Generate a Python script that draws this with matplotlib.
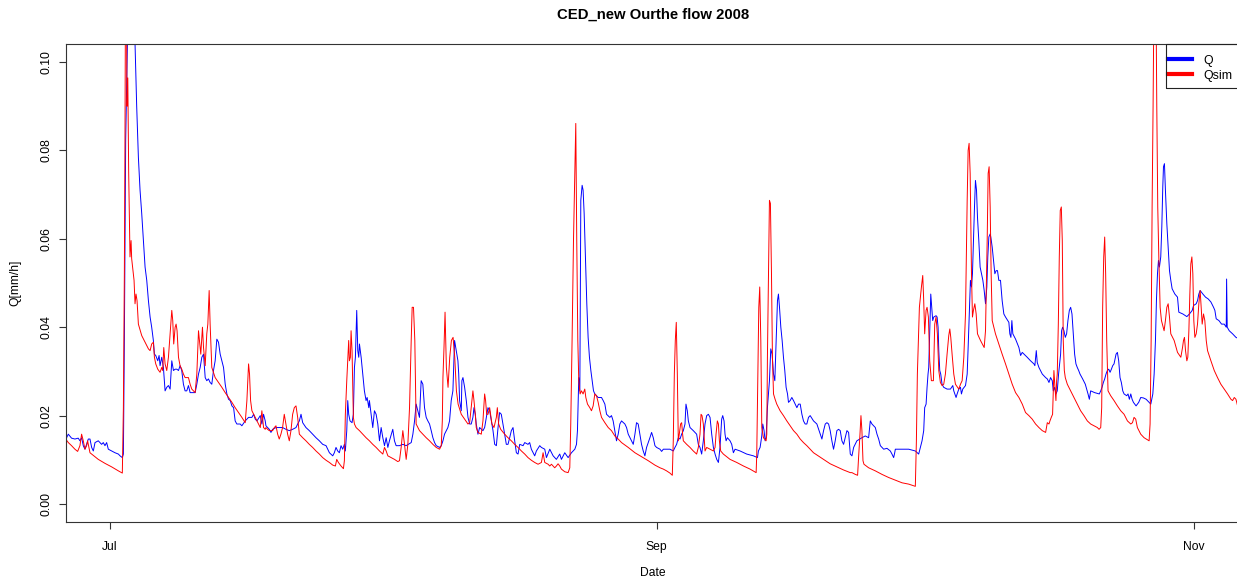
import numpy as np
import matplotlib
matplotlib.use("Agg")
import matplotlib.pyplot as plt
from matplotlib.patches import Rectangle

# (days since 2008-07-01, discharge in mm/h), hourly series thinned to the shape of the hydrograph
q_obs = [
    (-4.92, 0.0150), (-4.73, 0.0158), (-4.36, 0.0149), (-3.98, 0.0147), (-3.60, 0.0149),
    (-3.41, 0.0143), (-3.22, 0.0150), (-3.03, 0.0132), (-2.84, 0.0124), (-2.46, 0.0147),
    (-2.27, 0.0147), (-2.08, 0.0128), (-1.89, 0.0120), (-1.70, 0.0139), (-1.33, 0.0143),
    (-0.95, 0.0135), (-0.76, 0.0139), (-0.57, 0.0132), (-0.38, 0.0139), (-0.19, 0.0124),
    (0.19, 0.0120), (0.57, 0.0116), (0.95, 0.0113), (1.14, 0.0109), (1.40, 0.0105),
    (1.52, 0.0113), (1.63, 0.0370), (1.78, 0.0823), (2.30, 0.1400), (2.84, 0.1042),
    (3.03, 0.0899), (3.22, 0.0785), (3.41, 0.0710), (3.60, 0.0657), (3.79, 0.0596),
    (3.98, 0.0536), (4.17, 0.0506), (4.36, 0.0460), (4.55, 0.0423), (4.73, 0.0400),
    (4.92, 0.0370), (5.04, 0.0339), (5.19, 0.0336), (5.42, 0.0324), (5.57, 0.0336),
    (5.68, 0.0313), (5.87, 0.0332), (6.06, 0.0309), (6.25, 0.0256), (6.44, 0.0264),
    (6.63, 0.0268), (6.82, 0.0260), (7.01, 0.0324), (7.20, 0.0302), (7.39, 0.0305),
    (7.58, 0.0305), (7.77, 0.0302), (7.95, 0.0313), (8.14, 0.0302), (8.33, 0.0271),
    (8.52, 0.0256), (8.71, 0.0256), (8.90, 0.0268), (9.09, 0.0252), (9.47, 0.0252),
    (9.66, 0.0252), (9.85, 0.0271), (10.04, 0.0294), (10.23, 0.0309), (10.42, 0.0332),
    (10.61, 0.0339), (10.80, 0.0286), (10.98, 0.0279), (11.17, 0.0283), (11.36, 0.0275),
    (11.55, 0.0271), (11.74, 0.0302), (11.93, 0.0324), (12.12, 0.0373), (12.31, 0.0366),
    (12.50, 0.0339), (12.69, 0.0324), (12.88, 0.0309), (13.07, 0.0271), (13.26, 0.0249),
    (13.45, 0.0237), (13.64, 0.0234), (13.83, 0.0222), (14.02, 0.0218), (14.20, 0.0188),
    (14.39, 0.0181), (14.77, 0.0181), (14.96, 0.0177), (15.34, 0.0188), (15.72, 0.0196),
    (16.10, 0.0196), (16.29, 0.0203), (16.48, 0.0192), (16.67, 0.0188), (17.05, 0.0200),
    (17.23, 0.0181), (17.42, 0.0203), (17.61, 0.0188),
    (17.69, 0.0177), (18.07, 0.0169), (18.26, 0.0162), (18.45, 0.0169), (18.83, 0.0173),
    (19.20, 0.0173), (19.58, 0.0173), (19.96, 0.0169), (20.34, 0.0166), (20.72, 0.0169),
    (21.10, 0.0173), (21.29, 0.0181), (21.48, 0.0188), (21.67, 0.0203), (21.86, 0.0184),
    (22.23, 0.0173), (22.61, 0.0166), (22.99, 0.0158), (23.37, 0.0150), (23.75, 0.0143),
    (24.13, 0.0135), (24.51, 0.0132), (24.70, 0.0124), (24.89, 0.0116), (25.27, 0.0109),
    (25.45, 0.0116), (25.64, 0.0128), (25.83, 0.0120), (26.02, 0.0116), (26.21, 0.0132),
    (26.40, 0.0124), (26.59, 0.0135), (26.70, 0.0120), (26.86, 0.0166), (26.97, 0.0234),
    (27.08, 0.0203), (27.23, 0.0188), (27.46, 0.0184), (27.61, 0.0203), (27.73, 0.0309),
    (27.84, 0.0332), (27.99, 0.0438), (28.11, 0.0347), (28.22, 0.0332), (28.30, 0.0362),
    (28.49, 0.0332), (28.67, 0.0294), (28.86, 0.0256), (29.05, 0.0234), (29.17, 0.0241),
    (29.36, 0.0218), (29.43, 0.0234), (29.62, 0.0203), (29.81, 0.0173), (30.00, 0.0211),
    (30.19, 0.0203), (30.38, 0.0181), (30.57, 0.0143), (30.76, 0.0173), (30.95, 0.0150),
    (31.14, 0.0132), (31.33, 0.0150), (31.52, 0.0128), (31.70, 0.0143), (32.08, 0.0169),
    (32.27, 0.0143), (32.46, 0.0132), (32.84, 0.0132), (33.22, 0.0135), (33.60, 0.0132),
    (34.17, 0.0139), (34.36, 0.0158), (34.55, 0.0188), (34.73, 0.0226), (34.92, 0.0211),
    (35.11, 0.0196), (35.30, 0.0279), (35.49, 0.0271), (35.68, 0.0218), (35.87, 0.0196),
    (36.06, 0.0188), (36.25, 0.0181), (36.44, 0.0166), (36.63, 0.0150), (36.82, 0.0139),
    (37.01, 0.0132), (37.39, 0.0128), (37.58, 0.0132), (37.77, 0.0143), (37.95, 0.0158),
    (38.33, 0.0173), (38.52, 0.0188), (38.71, 0.0234), (38.90, 0.0256), (39.09, 0.0370),
    (39.28, 0.0347), (39.47, 0.0324), (39.56, 0.0294),
    (39.66, 0.0234), (39.85, 0.0211), (39.92, 0.0279), (40.04, 0.0286), (40.23, 0.0264),
    (40.42, 0.0234), (40.61, 0.0196), (40.80, 0.0181), (40.98, 0.0181), (41.17, 0.0196),
    (41.29, 0.0218), (41.44, 0.0203), (41.55, 0.0181), (41.74, 0.0158), (41.93, 0.0173),
    (42.31, 0.0166), (42.50, 0.0173), (42.69, 0.0196), (42.88, 0.0218), (43.07, 0.0211),
    (43.26, 0.0188), (43.45, 0.0166), (43.64, 0.0135), (43.83, 0.0132), (44.02, 0.0173),
    (44.20, 0.0207), (44.39, 0.0203), (44.58, 0.0181), (44.77, 0.0158), (44.96, 0.0135),
    (45.15, 0.0135), (45.34, 0.0150), (45.53, 0.0166), (45.72, 0.0173), (45.91, 0.0143),
    (46.10, 0.0116), (46.29, 0.0113), (46.48, 0.0135), (46.86, 0.0132), (47.05, 0.0139),
    (47.42, 0.0135), (47.61, 0.0139), (47.80, 0.0124), (48.18, 0.0109), (48.37, 0.0120),
    (48.75, 0.0132), (48.94, 0.0128), (49.32, 0.0124), (49.51, 0.0105), (49.89, 0.0124),
    (50.27, 0.0109), (50.64, 0.0101), (51.02, 0.0113), (51.21, 0.0101), (51.59, 0.0116),
    (51.97, 0.0105), (52.35, 0.0116), (52.73, 0.0124), (52.92, 0.0135), (53.03, 0.0166),
    (53.18, 0.0286), (53.30, 0.0256), (53.41, 0.0687), (53.56, 0.0721), (53.67, 0.0710),
    (53.79, 0.0657), (53.94, 0.0559), (54.09, 0.0453), (54.24, 0.0377), (54.39, 0.0332),
    (54.55, 0.0302), (54.70, 0.0279), (54.85, 0.0256), (55.00, 0.0249), (55.38, 0.0241),
    (55.76, 0.0241), (55.95, 0.0234), (56.14, 0.0226), (56.33, 0.0203), (56.70, 0.0196),
    (56.89, 0.0200), (57.08, 0.0188), (57.27, 0.0166), (57.46, 0.0143), (57.65, 0.0158),
    (57.84, 0.0181), (58.03, 0.0188), (58.41, 0.0181), (58.60, 0.0173), (58.79, 0.0158),
    (59.17, 0.0143), (59.36, 0.0135), (59.55, 0.0158), (59.73, 0.0184), (59.92, 0.0181),
    (60.11, 0.0158), (60.30, 0.0135), (60.49, 0.0120), (60.68, 0.0109), (60.87, 0.0128),
    (61.25, 0.0150), (61.44, 0.0162), (61.63, 0.0150),
    (61.82, 0.0132), (62.01, 0.0128), (62.39, 0.0124), (62.58, 0.0119), (62.77, 0.0124),
    (63.52, 0.0124), (63.90, 0.0120), (64.09, 0.0128), (64.28, 0.0135), (64.47, 0.0150),
    (64.66, 0.0147), (64.85, 0.0158), (65.04, 0.0166), (65.23, 0.0181), (65.34, 0.0226),
    (65.49, 0.0211), (65.61, 0.0188), (65.80, 0.0173), (66.17, 0.0166), (66.55, 0.0158),
    (66.74, 0.0135), (66.93, 0.0128), (67.12, 0.0113), (67.31, 0.0143), (67.50, 0.0181),
    (67.69, 0.0200), (67.88, 0.0203), (68.07, 0.0196), (68.26, 0.0158), (68.45, 0.0128),
    (68.64, 0.0113), (68.83, 0.0101), (69.02, 0.0094), (69.20, 0.0128), (69.39, 0.0192),
    (69.51, 0.0200), (69.66, 0.0188), (69.77, 0.0158), (69.89, 0.0143), (70.04, 0.0150),
    (70.34, 0.0143), (70.53, 0.0135), (70.72, 0.0116), (70.91, 0.0124), (71.48, 0.0120),
    (72.23, 0.0113), (72.99, 0.0109), (73.45, 0.0105), (73.56, 0.0120), (73.75, 0.0128),
    (73.94, 0.0154), (74.05, 0.0181), (74.20, 0.0166), (74.32, 0.0143), (74.43, 0.0150),
    (74.58, 0.0218), (74.81, 0.0279), (74.96, 0.0351), (75.11, 0.0339), (75.27, 0.0294),
    (75.42, 0.0279), (75.57, 0.0370), (75.72, 0.0460), (75.83, 0.0475), (75.95, 0.0445),
    (76.10, 0.0400), (76.25, 0.0370), (76.40, 0.0332), (76.55, 0.0302), (76.70, 0.0264),
    (76.86, 0.0249), (76.97, 0.0230), (77.16, 0.0234), (77.35, 0.0241), (77.54, 0.0234),
    (77.73, 0.0226), (77.92, 0.0218), (78.11, 0.0226), (78.30, 0.0226), (78.49, 0.0203),
    (78.67, 0.0188), (78.86, 0.0181), (79.05, 0.0181), (79.24, 0.0196), (79.43, 0.0200),
    (79.81, 0.0188), (80.19, 0.0181), (80.57, 0.0158), (80.76, 0.0147), (80.95, 0.0166),
    (81.14, 0.0181), (81.33, 0.0184), (81.52, 0.0181), (81.70, 0.0166), (81.89, 0.0143),
    (82.08, 0.0124), (82.27, 0.0143), (82.46, 0.0166), (82.65, 0.0169), (82.84, 0.0166),
    (83.03, 0.0143), (83.22, 0.0135), (83.41, 0.0150), (83.60, 0.0166), (83.79, 0.0162),
    (83.98, 0.0113), (84.17, 0.0109), (84.36, 0.0128), (84.73, 0.0143), (85.30, 0.0150),
    (85.68, 0.0154), (86.06, 0.0150), (86.25, 0.0188), (86.44, 0.0181), (86.82, 0.0173),
    (87.01, 0.0158), (87.20, 0.0147), (87.39, 0.0132), (87.77, 0.0124), (88.14, 0.0126),
    (88.52, 0.0120), (88.71, 0.0113), (88.90, 0.0105), (89.02, 0.0116), (89.09, 0.0124),
    (89.85, 0.0124), (90.61, 0.0124), (91.36, 0.0120), (91.74, 0.0113), (91.93, 0.0128),
    (92.12, 0.0143), (92.31, 0.0166), (92.42, 0.0218), (92.58, 0.0226), (92.69, 0.0264),
    (92.80, 0.0294), (92.88, 0.0309), (92.99, 0.0392), (93.11, 0.0475), (93.22, 0.0445),
    (93.33, 0.0415), (93.45, 0.0423), (93.71, 0.0426), (93.83, 0.0423), (93.94, 0.0400),
    (94.02, 0.0347), (94.13, 0.0302), (94.24, 0.0294), (94.39, 0.0271), (94.58, 0.0264),
    (94.96, 0.0260), (95.34, 0.0260), (95.61, 0.0268), (95.72, 0.0256), (95.98, 0.0241),
    (96.10, 0.0249), (96.29, 0.0260), (96.48, 0.0264), (96.59, 0.0249), (96.74, 0.0260),
    (97.05, 0.0268), (97.24, 0.0294), (97.35, 0.0354), (97.50, 0.0445), (97.61, 0.0506),
    (97.73, 0.0491), (97.84, 0.0521), (97.95, 0.0596), (98.07, 0.0672), (98.18, 0.0732),
    (98.30, 0.0710), (98.41, 0.0649), (98.56, 0.0596), (98.71, 0.0536), (98.86, 0.0521),
    (99.02, 0.0506), (99.17, 0.0483), (99.32, 0.0453), (99.47, 0.0491), (99.58, 0.0559),
    (99.70, 0.0604), (99.85, 0.0611), (99.92, 0.0604), (100.08, 0.0581), (100.23, 0.0551),
    (100.38, 0.0521), (100.53, 0.0528), (100.68, 0.0528), (100.83, 0.0506), (101.02, 0.0506),
    (101.21, 0.0460), (101.40, 0.0430), (101.59, 0.0423), (101.97, 0.0411), (102.08, 0.0385),
    (102.20, 0.0377), (102.31, 0.0415), (102.42, 0.0385), (102.73, 0.0373), (103.11, 0.0354),
    (103.30, 0.0336), (103.49, 0.0343), (104.05, 0.0332), (104.43, 0.0324), (104.81, 0.0317),
    (104.92, 0.0313), (105.08, 0.0347), (105.19, 0.0320), (105.38, 0.0309), (105.76, 0.0294),
    (106.14, 0.0286), (106.33, 0.0283), (106.52, 0.0275), (106.70, 0.0286), (106.89, 0.0279),
    (107.01, 0.0256), (107.16, 0.0264), (107.31, 0.0249), (107.46, 0.0256), (107.61, 0.0294),
    (107.73, 0.0317), (107.84, 0.0339), (107.95, 0.0392), (108.07, 0.0400), (108.22, 0.0392),
    (108.37, 0.0377), (108.52, 0.0385), (108.67, 0.0415), (108.83, 0.0438), (108.98, 0.0445),
    (109.13, 0.0430), (109.28, 0.0385), (109.43, 0.0339), (109.58, 0.0317), (109.73, 0.0309),
    (109.89, 0.0302), (110.04, 0.0294), (110.34, 0.0283), (110.64, 0.0271), (110.80, 0.0260),
    (110.95, 0.0249), (111.10, 0.0237), (111.25, 0.0256), (111.70, 0.0252), (112.23, 0.0249),
    (112.39, 0.0256), (112.54, 0.0264), (112.69, 0.0275), (112.84, 0.0283), (112.99, 0.0294),
    (113.14, 0.0302), (113.30, 0.0305), (113.45, 0.0298), (113.60, 0.0305), (113.75, 0.0313),
    (113.90, 0.0317), (114.13, 0.0339), (114.28, 0.0343), (114.43, 0.0324), (114.58, 0.0286),
    (114.73, 0.0275), (114.89, 0.0256), (115.04, 0.0249), (115.34, 0.0245), (115.49, 0.0249),
    (115.64, 0.0237), (115.80, 0.0249), (115.95, 0.0237), (116.10, 0.0230), (116.40, 0.0222),
    (116.70, 0.0230), (116.93, 0.0241), (117.23, 0.0240), (117.54, 0.0237), (117.88, 0.0230),
    (118.07, 0.0226), (118.18, 0.0237), (118.30, 0.0249), (118.45, 0.0294), (118.60, 0.0370),
    (118.71, 0.0460), (118.83, 0.0521), (118.94, 0.0551), (119.05, 0.0536), (119.20, 0.0559),
    (119.32, 0.0627), (119.43, 0.0717), (119.51, 0.0763), (119.62, 0.0770), (119.73, 0.0710),
    (119.89, 0.0634), (120.04, 0.0581), (120.19, 0.0528), (120.34, 0.0506), (120.49, 0.0487),
    (120.80, 0.0475), (121.10, 0.0468), (121.25, 0.0434), (121.70, 0.0430), (122.16, 0.0424),
    (122.46, 0.0430), (122.77, 0.0438), (122.92, 0.0449), (123.22, 0.0453), (123.37, 0.0460),
    (123.52, 0.0475), (123.67, 0.0483), (123.98, 0.0475), (124.28, 0.0468), (124.58, 0.0464),
    (124.89, 0.0457), (125.19, 0.0445), (125.34, 0.0438), (125.49, 0.0419), (125.80, 0.0415),
    (126.10, 0.0407), (126.40, 0.0407), (126.63, 0.0400), (126.67, 0.0509), (126.74, 0.0400),
    (126.97, 0.0392), (127.35, 0.0385), (127.73, 0.0377), (128.14, 0.0373),
]

q_sim = [
    (-4.99, 0.0146), (-4.73, 0.0139), (-4.36, 0.0132), (-3.98, 0.0124), (-3.67, 0.0119),
    (-3.41, 0.0132), (-3.22, 0.0158), (-3.03, 0.0143), (-2.84, 0.0124), (-2.65, 0.0132),
    (-2.54, 0.0143), (-2.39, 0.0128), (-2.27, 0.0116), (-2.08, 0.0113), (-1.33, 0.0101),
    (-0.57, 0.0092), (0.19, 0.0084), (0.95, 0.0075), (1.40, 0.0070), (1.52, 0.0218),
    (1.63, 0.0521), (1.70, 0.0823), (1.80, 0.1400), (1.93, 0.0900), (2.02, 0.0964),
    (2.12, 0.0750), (2.27, 0.0559), (2.39, 0.0596), (2.46, 0.0555), (2.73, 0.0506),
    (2.84, 0.0453), (2.95, 0.0475), (3.07, 0.0460), (3.22, 0.0407), (3.60, 0.0381),
    (3.98, 0.0366), (4.36, 0.0351), (4.55, 0.0347), (4.73, 0.0362), (4.92, 0.0366),
    (5.04, 0.0332), (5.19, 0.0317), (5.42, 0.0305), (5.68, 0.0298), (5.87, 0.0309),
    (5.98, 0.0302), (6.10, 0.0354), (6.25, 0.0317), (6.44, 0.0302), (6.63, 0.0332),
    (6.82, 0.0385), (7.01, 0.0438), (7.12, 0.0415), (7.23, 0.0362), (7.39, 0.0400),
    (7.50, 0.0407), (7.61, 0.0392), (7.77, 0.0332), (7.95, 0.0313), (8.14, 0.0305),
    (8.33, 0.0294), (8.52, 0.0286), (8.90, 0.0286), (9.09, 0.0271), (9.28, 0.0260),
    (9.66, 0.0252), (9.85, 0.0294), (10.04, 0.0392), (10.15, 0.0370), (10.30, 0.0339),
    (10.49, 0.0400), (10.61, 0.0354), (10.80, 0.0313), (10.98, 0.0385), (11.10, 0.0407),
    (11.25, 0.0483), (11.36, 0.0407), (11.55, 0.0309), (11.93, 0.0286), (12.31, 0.0275),
    (12.69, 0.0264), (13.07, 0.0252), (13.45, 0.0241), (13.83, 0.0230), (14.20, 0.0218),
    (14.58, 0.0207), (14.96, 0.0196), (15.34, 0.0184), (15.53, 0.0234), (15.72, 0.0317),
    (15.83, 0.0294), (15.95, 0.0234), (16.10, 0.0211), (16.48, 0.0196), (16.86, 0.0181),
    (17.05, 0.0173), (17.23, 0.0211), (17.42, 0.0173), (17.61, 0.0169),
    (17.69, 0.0173), (17.88, 0.0169), (18.07, 0.0166), (18.45, 0.0166), (18.64, 0.0173),
    (18.83, 0.0177), (19.02, 0.0158), (19.20, 0.0147), (19.39, 0.0158), (19.58, 0.0173),
    (19.77, 0.0203), (19.96, 0.0181), (20.15, 0.0158), (20.34, 0.0143), (20.53, 0.0166),
    (20.72, 0.0203), (20.91, 0.0218), (21.10, 0.0222), (21.29, 0.0196), (21.48, 0.0158),
    (21.86, 0.0150), (22.23, 0.0143), (22.61, 0.0135), (22.99, 0.0128), (23.37, 0.0120),
    (23.75, 0.0113), (24.13, 0.0105), (24.51, 0.0099), (24.89, 0.0094), (25.27, 0.0088),
    (25.57, 0.0086), (25.72, 0.0101), (25.91, 0.0094), (26.21, 0.0086), (26.48, 0.0080),
    (26.59, 0.0098), (26.70, 0.0203), (26.86, 0.0279), (26.97, 0.0324), (27.08, 0.0370),
    (27.16, 0.0324), (27.27, 0.0332), (27.35, 0.0392), (27.46, 0.0347), (27.61, 0.0196),
    (27.73, 0.0181), (27.92, 0.0173), (28.30, 0.0166), (28.67, 0.0158), (29.05, 0.0150),
    (29.43, 0.0143), (29.81, 0.0135), (30.19, 0.0128), (30.57, 0.0120), (30.95, 0.0113),
    (31.14, 0.0128), (31.33, 0.0120), (31.52, 0.0109), (31.89, 0.0105), (32.27, 0.0101),
    (32.65, 0.0096), (32.84, 0.0098), (33.03, 0.0128), (33.22, 0.0166), (33.41, 0.0135),
    (33.60, 0.0101), (33.79, 0.0135), (33.98, 0.0218), (34.17, 0.0370), (34.28, 0.0445),
    (34.43, 0.0445), (34.58, 0.0370), (34.73, 0.0181), (35.11, 0.0166), (35.49, 0.0158),
    (35.87, 0.0150), (36.25, 0.0143), (36.63, 0.0135), (37.01, 0.0128), (37.39, 0.0124),
    (37.58, 0.0132), (37.70, 0.0188), (37.77, 0.0286), (37.89, 0.0354), (38.01, 0.0434),
    (38.16, 0.0309), (38.35, 0.0264), (38.54, 0.0332), (38.73, 0.0370), (38.92, 0.0377),
    (39.11, 0.0332), (39.30, 0.0256), (39.49, 0.0226), (39.66, 0.0215),
    (39.85, 0.0203), (40.23, 0.0192), (40.61, 0.0181), (40.80, 0.0184), (40.98, 0.0218),
    (41.17, 0.0256), (41.29, 0.0234), (41.44, 0.0203), (41.55, 0.0173), (41.74, 0.0162),
    (42.12, 0.0158), (42.31, 0.0188), (42.50, 0.0249), (42.61, 0.0234), (42.73, 0.0203),
    (42.88, 0.0203), (43.07, 0.0218), (43.18, 0.0203), (43.33, 0.0181), (43.56, 0.0173),
    (43.83, 0.0196), (43.94, 0.0218), (44.09, 0.0181), (44.32, 0.0169), (44.77, 0.0158),
    (45.15, 0.0150), (45.53, 0.0143), (45.91, 0.0135), (46.29, 0.0128), (46.67, 0.0120),
    (47.05, 0.0113), (47.42, 0.0105), (47.80, 0.0099), (48.18, 0.0094), (48.56, 0.0090),
    (48.94, 0.0094), (49.13, 0.0116), (49.32, 0.0094), (49.70, 0.0090), (49.89, 0.0086),
    (50.08, 0.0090), (50.45, 0.0082), (50.64, 0.0086), (50.83, 0.0091), (51.02, 0.0086),
    (51.21, 0.0079), (51.59, 0.0073), (51.97, 0.0071), (52.16, 0.0082), (52.27, 0.0181),
    (52.42, 0.0370), (52.58, 0.0596), (52.73, 0.0748), (52.84, 0.0861), (52.95, 0.0596),
    (53.07, 0.0370), (53.18, 0.0279), (53.33, 0.0249), (53.48, 0.0256), (53.67, 0.0249),
    (53.86, 0.0260), (53.98, 0.0241), (54.17, 0.0226), (54.43, 0.0218), (54.62, 0.0211),
    (54.81, 0.0222), (55.00, 0.0249), (55.19, 0.0245), (55.38, 0.0230), (55.57, 0.0211),
    (55.76, 0.0196), (56.14, 0.0184), (56.52, 0.0173), (56.89, 0.0166), (57.27, 0.0154),
    (57.65, 0.0147), (58.03, 0.0139), (58.79, 0.0128), (59.55, 0.0116), (60.30, 0.0107),
    (61.06, 0.0098), (61.82, 0.0088),
    (62.01, 0.0086), (62.39, 0.0082), (62.77, 0.0079), (63.14, 0.0075), (63.52, 0.0070),
    (63.79, 0.0065), (63.90, 0.0143), (64.02, 0.0294), (64.13, 0.0370), (64.24, 0.0411),
    (64.36, 0.0294), (64.47, 0.0143), (64.58, 0.0158), (64.73, 0.0181), (64.85, 0.0184),
    (64.96, 0.0158), (65.04, 0.0143), (65.42, 0.0135), (65.80, 0.0128), (66.17, 0.0120),
    (66.55, 0.0113), (66.74, 0.0128), (66.93, 0.0158), (67.05, 0.0203), (67.16, 0.0200),
    (67.31, 0.0181), (67.50, 0.0120), (67.69, 0.0128), (68.07, 0.0124), (68.45, 0.0120),
    (68.64, 0.0128), (68.75, 0.0158), (68.90, 0.0188), (69.02, 0.0181), (69.13, 0.0143),
    (69.28, 0.0120), (69.58, 0.0113), (70.34, 0.0101), (71.10, 0.0094), (71.86, 0.0086),
    (72.61, 0.0079), (73.30, 0.0071), (73.37, 0.0113), (73.49, 0.0294), (73.60, 0.0445),
    (73.71, 0.0491), (73.83, 0.0370), (73.94, 0.0173), (74.13, 0.0150), (74.43, 0.0143),
    (74.51, 0.0158), (74.58, 0.0332), (74.70, 0.0521), (74.81, 0.0687), (74.92, 0.0680),
    (75.04, 0.0521), (75.15, 0.0332), (75.27, 0.0249), (75.45, 0.0237), (75.64, 0.0226),
    (76.02, 0.0211), (76.40, 0.0200), (76.78, 0.0188), (77.16, 0.0177), (77.54, 0.0166),
    (77.92, 0.0158), (78.30, 0.0147), (78.67, 0.0139), (79.05, 0.0132), (79.43, 0.0124),
    (79.81, 0.0116), (80.19, 0.0111), (80.95, 0.0101), (81.70, 0.0091), (82.46, 0.0084),
    (83.22, 0.0077), (83.98, 0.0071), (84.17, 0.0071), (84.55, 0.0067), (84.81, 0.0065),
    (84.92, 0.0105), (85.08, 0.0158), (85.19, 0.0200), (85.30, 0.0166), (85.42, 0.0098),
    (85.53, 0.0090), (86.06, 0.0082), (86.82, 0.0075), (87.58, 0.0067), (88.33, 0.0060),
    (89.09, 0.0054), (89.85, 0.0048), (90.61, 0.0045), (91.36, 0.0040), (91.48, 0.0143),
    (91.59, 0.0294), (91.70, 0.0370), (91.82, 0.0445), (92.05, 0.0491), (92.20, 0.0517),
    (92.31, 0.0460), (92.42, 0.0385), (92.58, 0.0438), (92.69, 0.0445), (92.84, 0.0423),
    (92.99, 0.0324), (93.18, 0.0279), (93.41, 0.0279), (93.56, 0.0407), (93.71, 0.0423),
    (93.86, 0.0385), (94.02, 0.0302), (94.20, 0.0275), (94.39, 0.0268), (94.58, 0.0271),
    (94.77, 0.0294), (94.96, 0.0339), (95.15, 0.0381), (95.27, 0.0396), (95.38, 0.0377),
    (95.53, 0.0339), (95.72, 0.0294), (95.91, 0.0271), (96.29, 0.0260), (96.48, 0.0271),
    (96.67, 0.0279), (96.86, 0.0332), (97.05, 0.0430), (97.24, 0.0687), (97.35, 0.0800),
    (97.46, 0.0816), (97.58, 0.0748), (97.73, 0.0521), (97.84, 0.0423), (97.95, 0.0438),
    (98.11, 0.0453), (98.26, 0.0430), (98.41, 0.0385), (98.75, 0.0370), (99.17, 0.0354),
    (99.32, 0.0392), (99.51, 0.0596), (99.62, 0.0748), (99.73, 0.0763), (99.85, 0.0672),
    (99.96, 0.0521), (100.08, 0.0415), (100.45, 0.0385), (100.83, 0.0362), (101.21, 0.0339),
    (101.59, 0.0317), (101.97, 0.0294), (102.35, 0.0271), (102.73, 0.0252), (103.11, 0.0241),
    (103.49, 0.0226), (103.86, 0.0207), (104.24, 0.0200), (104.62, 0.0192), (105.00, 0.0181),
    (105.38, 0.0173), (105.76, 0.0166), (106.14, 0.0162), (106.33, 0.0184), (106.52, 0.0181),
    (106.63, 0.0188), (106.78, 0.0196), (106.93, 0.0203), (107.08, 0.0302), (107.20, 0.0264),
    (107.31, 0.0234), (107.39, 0.0279), (107.46, 0.0294), (107.58, 0.0407), (107.69, 0.0559),
    (107.80, 0.0664), (107.92, 0.0672), (108.03, 0.0596), (108.14, 0.0370), (108.26, 0.0302),
    (108.37, 0.0286), (108.60, 0.0271), (108.98, 0.0256), (109.36, 0.0241), (109.73, 0.0226),
    (110.11, 0.0211), (110.49, 0.0200), (110.87, 0.0188), (111.25, 0.0181), (111.63, 0.0177),
    (112.01, 0.0173), (112.20, 0.0169), (112.39, 0.0173), (112.50, 0.0218), (112.61, 0.0445),
    (112.73, 0.0559), (112.84, 0.0604), (112.95, 0.0521), (113.07, 0.0370), (113.22, 0.0256),
    (113.52, 0.0245), (113.90, 0.0234), (114.28, 0.0222), (114.66, 0.0211), (115.04, 0.0203),
    (115.42, 0.0188), (115.80, 0.0181), (115.99, 0.0184), (116.17, 0.0196), (116.36, 0.0192),
    (116.55, 0.0173), (116.93, 0.0158), (117.31, 0.0150), (117.88, 0.0143), (117.99, 0.0181),
    (118.11, 0.0370), (118.22, 0.0672), (118.33, 0.0899), (118.49, 0.1300), (118.64, 0.1200),
    (118.75, 0.0899), (118.86, 0.0672), (118.98, 0.0559), (119.13, 0.0445), (119.28, 0.0415),
    (119.58, 0.0392), (119.73, 0.0415), (119.89, 0.0445), (120.04, 0.0453), (120.19, 0.0423),
    (120.34, 0.0385), (120.72, 0.0370), (121.10, 0.0343), (121.48, 0.0332), (121.67, 0.0354),
    (121.78, 0.0370), (121.89, 0.0377), (122.01, 0.0347), (122.16, 0.0324), (122.27, 0.0332),
    (122.39, 0.0392), (122.50, 0.0475), (122.61, 0.0543), (122.73, 0.0559), (122.84, 0.0521),
    (122.95, 0.0415), (123.07, 0.0377), (123.22, 0.0385), (123.37, 0.0407), (123.52, 0.0453),
    (123.67, 0.0483), (123.79, 0.0445), (123.90, 0.0407), (124.05, 0.0430), (124.20, 0.0415),
    (124.36, 0.0370), (124.51, 0.0347), (124.89, 0.0324), (125.27, 0.0302), (125.64, 0.0286),
    (126.02, 0.0271), (126.40, 0.0260), (126.78, 0.0249), (127.16, 0.0237), (127.35, 0.0234),
    (127.54, 0.0241), (127.73, 0.0237), (127.92, 0.0222), (128.11, 0.0226),
]

month_ticks = ["2008-07-01", "2008-09-01", "2008-11-01"]
month_labels = ["Jul", "Sep", "Nov"]
y_ticks = [0.00, 0.02, 0.04, 0.06, 0.08, 0.10]

ORIGIN = np.datetime64("2008-07-01T00:00")


def to_dates(days):
    minutes = np.round(np.asarray(days, dtype=float) * 1440).astype(np.int64)
    return ORIGIN + minutes.astype("timedelta64[m]")


plt.rcParams["font.family"] = ["Liberation Sans", "DejaVu Sans"]

W, H = 1237, 585
fig = plt.figure(figsize=(W / 100, H / 100), dpi=100)
ax = fig.add_axes([66 / W, (H - 521.7) / H, (1240 - 66) / W, (521.7 - 44.3) / H])

obs_day, obs_val = np.array(q_obs).T
sim_day, sim_val = np.array(q_sim).T

ax.plot(to_dates(obs_day), obs_val, color="#0000ff", lw=0.7, label="Q")
ax.plot(to_dates(sim_day), sim_val, color="#ff0000", lw=0.7, label="Qsim")

ax.set_xlim(to_dates([-4.99, 128.19]))
ax.set_ylim(-0.004, 0.104)

ax.set_xticks(np.array(month_ticks, dtype="datetime64[m]"))
ax.set_xticklabels(month_labels)
ax.set_yticks(y_ticks)
ax.set_yticklabels([f"{v:.2f}" for v in y_ticks], rotation=90, va="center")

ax.tick_params(axis="both", length=5, width=0.8, labelsize=8.7, color="#333333")
ax.tick_params(axis="x", pad=9)
ax.tick_params(axis="y", pad=5)
for side in ax.spines.values():
    side.set_linewidth(0.8)
    side.set_color("#333333")

fig.text(653 / W, 1 - 15 / H, "CED_new Ourthe flow 2008", ha="center", va="center",
         fontsize=10.7, fontweight="bold")
fig.text(653 / W, 1 - 573 / H, "Date", ha="center", va="center", fontsize=8.7)
fig.text(15 / W, 1 - 283 / H, "Q[mm/h]", ha="center", va="center", rotation=90, fontsize=8.7)

# legend entries without their own frame; the box is drawn separately so it can run off the edge
leg = ax.legend(loc="upper left", bbox_to_anchor=(1167.7 / W, 1 - 53.5 / H),
                bbox_transform=fig.transFigure, borderaxespad=0, borderpad=0,
                fontsize=8.9, frameon=False, handlelength=2.0, handleheight=1.24,
                handletextpad=0.85, labelspacing=0.1)
for line in leg.get_lines():
    line.set_linewidth(3)
fig.patches.append(Rectangle((1165.7 / W, 1 - 87.7 / H), 90 / W, 43.4 / H,
                             transform=fig.transFigure, fill=False,
                             edgecolor="#222222", lw=0.8, zorder=5))

fig.savefig("out.png", dpi=100)
